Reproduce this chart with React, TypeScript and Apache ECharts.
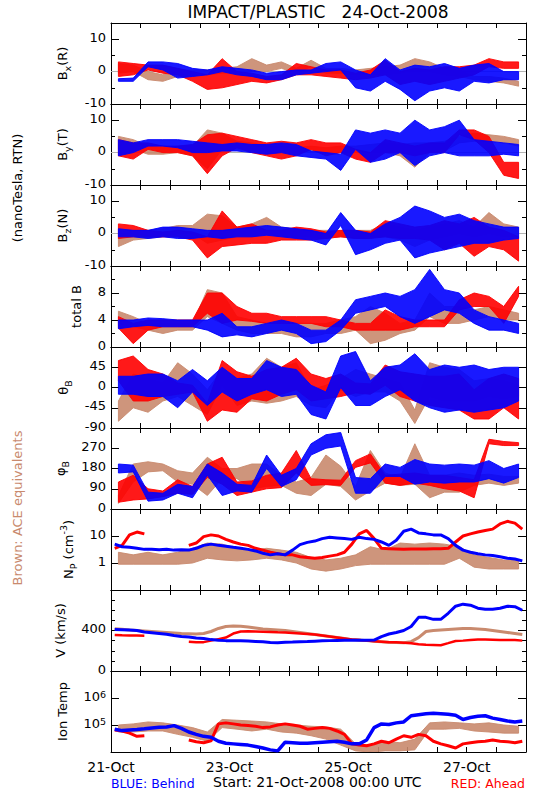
import React, { useEffect, useRef } from 'react';
import * as echarts from 'echarts';

const BLUE = '#0000ff';
const RED = '#ff0000';
const BROWN = '#c98a6e';
const FONT = 'DejaVu Sans';

// sample times: hours since 21-Oct-2008 00:00 UTC (every 3 h)
const TIMES: number[] = Array.from({ length: 56 }, (_, i) => 1.5 + 3 * i);

const X_LABEL_HOURS = [0, 48, 96, 144];
const X_LABELS = ['21-Oct', '23-Oct', '25-Oct', '27-Oct'];

// ---- Bx (R) : alternating upper / lower envelope readings
const BX_BEHIND = [-2.2,-3.0,-2.0,-3.0,3.0,1.5,3.0,0.5, 2.5,-2.0,1.0,-1.5,0.5,-1.0,1.5,0, 1.0,-1.0,0.5,-1.5,-0.5,-2.5,0,-2.5, 0.5,-1.0,0.5,-0.5,2.5,0,3.0,0.5, 0.5,-5.0,-1.0,-6.0,4.0,-3.0,0.5,-5.5, 2.0,-9.0,1.5,-6.0,2.5,-5.0,1.0,-6.0, 2.0,-3.0,2.5,-3.5,0,-2.5,0,-2.5];
const BX_AHEAD = [3.0,-1.5,2.5,-1.0,2.0,0.5,2.0,-0.5, 1.0,-1.0,0,-3.0,-1.0,-5.5,4.0,-5.0, 0,-4.0,-0.5,-3.0,-1.5,-3.5,-1.0,-2.5, 2.5,-1.0,1.5,-1.0,0.5,-1.5,0.5,-2.0, -0.5,-2.5,0.5,-2.0,3.5,-1.0,0,-4.0, 1.0,-3.0,0.5,-4.0,1.5,-3.0,1.5,-2.0, 2.0,-1.0,4.0,1.5,3.0,1.0,3.0,1.0];
const BX_ACE = [2.5,-0.5,2.0,0,0,-2.5,-1.0,-3.0, 0.5,-1.5,0.5,-1.0,0.5,-1.0,1.0,-0.5, 1.5,-0.5,4.0,0,2.0,0,3.0,1.0, 1.0,-0.5,3.5,1.5,1.0,-0.5,1.0,-0.5, 0.5,-1.0,1.0,-1.0,1.5,-1.0,2.0,-0.5, 4.0,0.5,3.0,0,1.0,-1.0,0.5,-1.5, -1.5,-2.5,-1.5,-3.0,-2.0,-3.5,-3.0,-4.5];

// ---- By (T)
const BY_BEHIND = [4.0,-1.0,3.0,0,4.0,2.0,4.0,2.0, 4.0,1.5,3.5,0,3.0,0,2.5,0.5, 3.0,0.5,2.5,0,2.5,-0.5,3.0,0, 2.5,-1.0,0.5,-1.5,0,-2.0,-0.5,-5.5, 7.0,1.0,6.0,-3.0,7.0,-2.0,6.0,0, 10.0,-4.0,7.0,-1.0,8.0,0,10.0,-1.0, 4.0,-1.0,3.5,-1.0,3.0,-0.5,2.5,-1.0];
const BY_AHEAD = [4.0,-1.0,3.0,-2.0,3.0,1.0,2.0,0, 2.0,0,2.5,-1.0,5.5,-6.5,6.0,-1.0, 5.0,1.5,4.0,0,3.0,-1.0,3.5,-2.0, 3.0,-1.0,4.0,1.0,3.0,-1.0,3.0,0, 1.0,-2.0,0,-3.0,4.0,0,3.0,0, 2.0,-1.0,3.0,0,3.0,0,7.0,5.5, 7.0,4.0,5.0,0,-3.0,-7.0,-3.0,-8.0];
const BY_ACE = [5.0,1.0,4.0,1.0,2.0,-0.5,1.5,-0.5, 2.0,0,2.0,-1.0,7.0,-5.0,6.0,1.0, 3.5,1.0,3.0,0.5,2.0,-0.5,2.0,0, 1.5,0,2.0,0.5,1.5,0,2.0,0, 2.0,0,2.5,0,3.0,0,2.5,-1.0, 3.0,-4.5,3.0,0,3.5,0.5,5.0,3.0, 6.0,3.5,5.5,3.5,5.0,3.0,4.0,2.0];

// ---- Bz (N)
const BZ_BEHIND = [1.5,-1.0,1.0,-1.0,1.0,-1.5,2.0,-1.0, 2.0,-1.5,1.5,-1.5,1.0,-1.0,1.0,-1.5, 1.5,-1.0,2.0,-1.0,2.5,-0.5,2.0,-1.0, 1.5,-1.5,1.0,-2.0,0,-3.5,6.5,2.5, 1.0,-6.5,0,-5.0,3.0,-3.0,5.0,-2.0, 8.5,-7.5,7.0,-6.0,5.0,-5.0,6.0,-4.0, 4.0,-3.0,3.0,-3.0,2.0,-2.0,2.0,-1.5];
const BZ_AHEAD = [3.0,-1.5,2.5,-1.0,1.0,-1.0,0.5,-1.0, 1.0,-1.0,0.5,-2.0,-1.0,-7.5,7.0,-4.0, 2.0,-3.5,3.0,-3.0,1.0,-3.0,1.0,-2.0, 2.0,-2.0,1.5,-2.0,0.5,-1.5,1.0,-1.0, 1.0,-1.5,0.5,-1.5,4.0,-1.0,3.0,-1.5, 2.0,-1.5,2.5,-2.0,4.0,-5.0,3.0,-3.0, 5.0,-7.0,2.0,-4.0,1.0,-5.0,-1.0,-8.5];
const BZ_ACE = [-1.0,-4.0,1.0,-2.0,1.0,-1.5,1.5,-1.0, 2.5,0,2.5,0,6.0,-3.0,5.5,-2.0, 2.0,-1.0,3.0,-1.0,5.0,0,2.0,-1.0, 1.5,-1.0,1.0,-1.0,1.0,-1.5,1.0,-1.0, 1.0,-1.5,1.0,-1.0,3.0,-1.0,2.0,-2.0, 1.0,-4.0,2.0,-2.0,3.0,-1.0,4.0,0, 2.0,-1.0,6.5,0,3.0,-1.0,2.0,-1.0];

// ---- total B
const BT_BEHIND = [4.0,2.7,4.0,3.0,4.3,3.2,4.2,3.0, 4.0,3.0,4.0,3.0,4.0,2.5,5.0,1.5, 3.0,1.8,3.0,1.5,3.5,2.0,4.0,2.5, 3.5,2.0,2.5,0.5,2.5,0.8,4.0,2.5, 7.0,5.0,7.5,5.5,8.0,6.0,7.5,4.5, 8.5,3.5,11.5,4.5,8.5,5.5,8.0,5.0, 5.5,3.5,4.5,2.5,4.0,2.5,3.5,2.0];
const BT_AHEAD = [4.5,2.8,3.5,0.5,4.0,2.5,4.0,3.0, 4.0,3.0,4.0,3.0,8.0,5.0,8.0,3.5, 6.0,4.0,5.0,3.8,5.0,3.5,4.5,3.5, 4.5,3.5,4.5,3.5,4.5,3.0,4.0,3.0, 3.5,2.5,3.5,2.5,5.5,2.5,4.5,2.5, 4.0,3.0,4.0,3.0,4.0,3.0,7.0,5.5, 8.0,6.0,7.5,6.0,6.0,3.5,9.0,7.5];
const BT_ACE = [5.3,3.5,4.5,3.0,3.5,2.5,3.5,2.0, 3.5,2.5,3.5,2.5,8.5,4.5,8.0,3.5, 4.5,2.5,4.0,2.0,3.5,2.0,3.5,2.0, 3.5,1.5,3.5,1.5,3.5,2.0,4.0,2.0, 4.5,2.5,6.0,0.5,5.0,1.0,3.5,2.0, 4.0,2.5,8.0,4.5,6.0,3.5,6.0,3.5, 5.5,4.0,6.0,4.5,5.5,4.0,5.0,4.0];

// ---- theta_B (dense core of the scatter)
const TH_BEHIND = [25,-15,25,-15,30,-20,30,-20, 15,-45,40,-10,15,-40,45,-10, 20,-30,20,-15,60,-5,45,-20, 40,-15,5,-60,-10,-70,70,0, 80,-40,15,-40,45,-20,50,-5, 75,-30,40,-45,50,-55,45,-50, 50,-55,40,-50,45,-45,45,-30];
const TH_AHEAD = [60,15,70,-30,40,-30,30,-20, 10,-15,5,-10,-35,-75,60,-50, 35,-55,25,-25,40,-30,45,-15, 65,-5,30,-30,20,-25,30,-20, 10,-12,8,-15,50,5,35,-20, 30,-30,25,-40,25,-45,30,-50, -5,-70,20,-70,30,-45,20,-70];
const TH_ACE = [-30,-75,30,-45,20,-55,10,-30, 55,-20,30,-40,-5,-60,40,5, 20,-40,30,-30,65,-35,45,-30, 55,-20,-5,-40,5,-45,20,-5, 40,-20,30,-10,20,-10,10,-30, -50,-80,55,-20,45,-30,40,-30, 15,-30,20,-20,15,-25,5,-20];

// ---- phi_B (dense core of the scatter)
const PH_BEHIND = [200,160,195,165,75,35,70,40, 110,70,100,50,200,150,160,60, 110,80,105,75,240,180,150,100, 180,130,290,240,330,270,340,280, 140,70,135,70,200,145,185,145, 220,110,200,120,195,115,200,120, 195,120,215,135,180,115,200,140];
const PH_AHEAD = [120,30,150,40,90,45,80,55, 130,70,100,65,200,140,230,110, 120,60,125,75,150,90,160,95, 260,160,135,105,130,108,128,105, 215,185,245,205,150,115,155,105, 160,115,150,105,150,90,140,80, 130,50,310,290,300,282,295,282];
const PH_ACE = [60,25,200,120,210,165,200,170, 170,120,160,110,230,60,180,135, 180,135,200,90,200,100,150,105, 120,70,140,60,240,110,190,100, 100,40,260,80,160,115,140,105, 290,110,150,50,150,75,160,75, 150,105,155,115,145,105,145,115];

// ---- Np (cm^-3)
const NP_BEHIND = [5.0,4.0,3.8,3.5,3.2,3.2,3.1,3.2, 3.0,3.1,3.0,3.5,4.5,5.0,4.5,4.2, 3.8,3.5,3.2,2.8,2.3,2.0,2.2,2.0, 3.0,4.8,5.8,6.5,8.0,9.0,8.5,8.0, 7.5,9.0,8.0,7.5,6.0,4.5,7.0,15, 18,13,12,11,11,8.0,4.5,3.0, 2.5,2.2,2.0,1.9,1.7,1.5,1.4,1.2];
const NP_AHEAD = [3.5,4.5,11,14,12,null,null,null, null,null,4.5,5.5,9.5,11,10,7.5, 6.0,5.0,4.5,3.5,3.0,2.5,2.2,2.0, 2.0,1.7,1.6,1.5,1.6,1.8,2.0,2.5, 5.0,12,16,8.0,3.5,3.4,3.3,3.2, 3.3,3.3,3.3,3.4,3.4,3.5,6.0,10, 12,14,16,18,28,35,30,18];
const NP_ACE = [2.5,0.9,2.0,0.9,2.5,0.9,2.0,0.9, 2.5,0.9,3.5,1.0,5.5,1.5,5.0,1.3, 3.5,1.2,3.0,1.3,3.5,1.5,3.0,1.3, 2.5,1.0,1.6,0.6,1.3,0.5,1.5,0.6, 2.0,0.8,4.0,0.9,3.0,0.9,5.5,0.9, 5.0,0.9,5.5,0.9,5.0,0.9,4.0,1.5, 2.0,0.7,1.6,0.6,1.3,0.6,1.2,0.6];

// ---- V (km/s)
const V_BEHIND = [410,408,405,400,385,378,370,362, 350,340,335,325,320,310,303,300, 300,298,296,292,288,282,280,283, 286,290,292,295,298,300,302,303, 303,303,304,305,340,365,380,400, 440,530,530,510,510,570,640,660, 650,620,610,610,620,640,635,600];
const V_AHEAD = [355,352,350,350,348,null,null,null, null,null,290,285,285,300,315,330, 370,390,392,390,388,385,382,380, 375,370,365,360,350,340,330,320, 310,305,300,295,290,285,283,280, 275,265,260,258,255,275,296,300, 305,310,310,308,305,305,305,300];
const V_ACE = [418,412,405,400,395,390,385,380, 375,370,368,365,370,390,420,440, 445,442,435,425,415,410,405,400, 390,380,370,360,350,340,330,320, 310,305,300,295,290,285,282,280, 290,330,390,400,405,410,415,420, 420,415,410,400,390,380,370,360];

// ---- Ion Temp (K)
const T_BEHIND = [7e4,6.2e4,6.5e4,6.8e4,7.2e4,7.8e4,8.2e4,8.5e4, 9.5e4,7.5e4,5.5e4,4.5e4,3.8e4,3.5e4,2.5e4,2.1e4, 2e4,1.9e4,1.8e4,1.6e4,1.4e4,1.2e4,1.1e4,2.3e4, 2.2e4,2.1e4,2.1e4,2.2e4,2.3e4,2.4e4,2.5e4,2.3e4, 2e4,2e4,2.8e4,8e4,1.1e5,1.05e5,1.2e5,1.3e5, 2.2e5,2.4e5,2.6e5,2.7e5,2.6e5,2.5e5,2.3e5,1.6e5, 1.9e5,2.1e5,2.2e5,1.8e5,1.6e5,1.4e5,1.3e5,1.4e5];
const T_AHEAD = [6.5e4,6e4,5e4,3.8e4,4e4,null,null,null, null,null,2.8e4,2.4e4,2.2e4,2.6e4,1.1e5,1.2e5, 1.1e5,1e5,9.5e4,9e4,8e4,8.5e4,1e5,1.1e5, 1e5,9e4,7e4,7.5e4,8e4,7.5e4,6e4,4.5e4, 2e4,1.8e4,1.7e4,2e4,2.5e4,2.2e4,3e4,4e4, 3.5e4,4.5e4,4e4,2.5e4,2e4,1.7e4,1.4e4,2e4, 2.2e4,2.4e4,2.5e4,2.8e4,2.5e4,2.4e4,2.2e4,2.5e4];
const T_ACE = [1e5,5.5e4,1.1e5,5.5e4,1.3e5,6e4,1.2e5,6e4, 1e5,4.5e4,8e4,3.5e4,5.5e4,2.5e4,1.6e5,8e4, 1.5e5,7e4,1.4e5,6e4,1.3e5,7e4,1.1e5,5.5e4, 1e5,5e4,9e4,4e4,8.5e4,3e4,7e4,1.8e4, 2e4,1.1e4,1.8e4,1e4,2.5e4,1.1e4,2.2e4,1.1e4, 3e4,1.2e4,1.2e5,7e4,1.3e5,7e4,1.2e5,7.5e4, 1.1e5,6e4,1.2e5,5.5e4,1e5,5e4,9e4,5e4];

type Arr = (number | null)[];
// kind: 'e' = alternating upper/lower envelope (drawn as a band), 'l' = plain line
interface Panel {
  name: string;
  type: 'value' | 'log';
  min: number;
  max: number;
  interval?: number;
  minor?: number;
  labels: number[];
  gap: number;
  zero?: boolean;
  ace: Arr;
  ahead: Arr;
  behind: Arr;
  kind: [string, string, string];
  w: [number, number, number];
  sup?: boolean;
}

const PANELS: Panel[] = [
  { name: 'B{sub|x}(R)', type: 'value', min: -10, max: 15, interval: 10, minor: 2, labels: [-10, 0, 10], gap: 39, zero: true, ace: BX_ACE, ahead: BX_AHEAD, behind: BX_BEHIND, kind: ['e', 'e', 'e'], w: [1, 1, 1] },
  { name: 'B{sub|y}(T)', type: 'value', min: -10, max: 15, interval: 10, minor: 2, labels: [-10, 0, 10], gap: 39, zero: true, ace: BY_ACE, ahead: BY_AHEAD, behind: BY_BEHIND, kind: ['e', 'e', 'e'], w: [1, 1, 1] },
  { name: 'B{sub|z}(N)', type: 'value', min: -10, max: 15, interval: 10, minor: 2, labels: [-10, 0, 10], gap: 39, zero: true, ace: BZ_ACE, ahead: BZ_AHEAD, behind: BZ_BEHIND, kind: ['e', 'e', 'e'], w: [1, 1, 1] },
  { name: 'total B', type: 'value', min: 0, max: 12, interval: 4, minor: 2, labels: [0, 4, 8], gap: 19, ace: BT_ACE, ahead: BT_AHEAD, behind: BT_BEHIND, kind: ['e', 'e', 'e'], w: [1, 1, 1] },
  { name: 'θ{sub|B}', type: 'value', min: -90, max: 90, interval: 45, labels: [-90, -45, 0, 45], gap: 36, ace: TH_ACE, ahead: TH_AHEAD, behind: TH_BEHIND, kind: ['e', 'e', 'e'], w: [1, 1, 1] },
  { name: 'φ{sub|B}', type: 'value', min: 0, max: 360, interval: 90, labels: [0, 90, 180, 270], gap: 36, ace: PH_ACE, ahead: PH_AHEAD, behind: PH_BEHIND, kind: ['e', 'e', 'e'], w: [1, 1, 1] },
  { name: 'N{sub|P} (cm{sup|-3})', type: 'log', min: 0.1, max: 100, labels: [1, 10], gap: 25, ace: NP_ACE, ahead: NP_AHEAD, behind: NP_BEHIND, kind: ['e', 'l', 'l'], w: [1, 3, 3] },
  { name: 'V (km/s)', type: 'value', min: 0, max: 800, interval: 400, minor: 4, labels: [0, 400], gap: 31, ace: V_ACE, ahead: V_AHEAD, behind: V_BEHIND, kind: ['l', 'l', 'l'], w: [3, 2.5, 3] },
  { name: 'Ion Temp', type: 'log', min: 1e4, max: 1e7, labels: [1e5, 1e6], gap: 31, sup: true, ace: T_ACE, ahead: T_AHEAD, behind: T_BEHIND, kind: ['e', 'l', 'l'], w: [1, 3, 3.5] },
];

const TOP0 = 23;
const PH = 81;

const toPairs = (arr: Arr) => arr.map((v, i) => [TIMES[i], v === null ? '-' : v]);

const richStyles = {
  sub: { fontFamily: FONT, fontSize: 9.5, lineHeight: 9, verticalAlign: 'bottom' },
  sup: { fontFamily: FONT, fontSize: 9.5, lineHeight: 9, verticalAlign: 'top' },
};

function buildOption() {
  const grid: any[] = [];
  const xAxis: any[] = [];
  const yAxis: any[] = [];
  const series: any[] = [];
  const tickLine = { color: '#000', width: 1 };

  PANELS.forEach((p, i) => {
    const last = i === PANELS.length - 1;
    grid.push({ left: 111, width: 415, top: TOP0 + i * PH, height: PH });
    const xCommon = {
      gridIndex: i,
      type: 'value',
      min: 0,
      max: 168,
      interval: 12,
      axisLine: { show: true, onZero: false, lineStyle: tickLine },
      axisTick: { show: true, inside: true, length: 5, lineStyle: tickLine },
      splitLine: { show: false },
    };
    xAxis.push({
      ...xCommon,
      position: 'bottom',
      axisLabel: {
        show: last,
        customValues: X_LABEL_HOURS,
        margin: 8,
        color: '#000',
        fontFamily: FONT,
        fontSize: 14,
        formatter: (v: number) => {
          const k = X_LABEL_HOURS.indexOf(Math.round(v));
          return k >= 0 ? X_LABELS[k] : '';
        },
      },
    });
    xAxis.push({ ...xCommon, position: 'top', axisLabel: { show: false } });

    const yCommon: any = {
      gridIndex: i,
      type: p.type,
      min: p.min,
      max: p.max,
      axisLine: { show: true, onZero: false, lineStyle: tickLine },
      axisTick: { show: true, inside: true, length: 8, lineStyle: tickLine },
      splitLine: { show: false },
      minorSplitLine: { show: false },
      minorTick: p.minor ? { show: true, splitNumber: p.minor, length: 4, lineStyle: tickLine } : { show: false },
    };
    if (p.type === 'log') yCommon.logBase = 10;
    else yCommon.interval = p.interval;

    const fmt = (v: number) => {
      if (p.type === 'log') {
        const e = Math.round(Math.log10(v));
        if (p.sup) return `10{sup|${e}}`;
        return String(Math.pow(10, e));
      }
      return String(Math.round(v));
    };

    yAxis.push({
      ...yCommon,
      position: 'left',
      name: p.name,
      nameLocation: 'middle',
      nameGap: p.gap,
      nameRotate: 90,
      nameTextStyle: { color: '#000', fontFamily: FONT, fontSize: 13, lineHeight: 20, rich: richStyles },
      axisLabel: {
        show: true,
        customValues: p.labels,
        hideOverlap: false,
        margin: 5,
        color: '#000',
        fontFamily: FONT,
        fontSize: 13,
        lineHeight: 14,
        padding: [0, 0, 4, 0],
        showMinLabel: true,
        showMaxLabel: true,
        formatter: fmt,
        rich: richStyles,
      },
    });
    yAxis.push({ ...yCommon, position: 'right', axisLabel: { show: false } });

    const mkLine = (name: string, data: Arr, color: string, w: number, z: number) => ({
      name,
      type: 'line',
      xAxisIndex: 2 * i,
      yAxisIndex: 2 * i,
      data: toPairs(data),
      showSymbol: false,
      symbol: 'none',
      connectNulls: false,
      silent: true,
      z,
      lineStyle: { color, width: w },
      itemStyle: { color },
    });

    // band between successive upper (even index) and lower (odd index) readings
    const mkRibbon = (name: string, data: Arr, color: string, z: number) => ({
      name,
      type: 'custom',
      xAxisIndex: 2 * i,
      yAxisIndex: 2 * i,
      z,
      silent: true,
      clip: true,
      data: [[TIMES[0], data[0]]],
      renderItem: (_params: any, api: any) => {
        const upper: number[][] = [];
        const lower: number[][] = [];
        for (let k = 0; 2 * k + 1 < data.length; k++) {
          const hi = data[2 * k];
          const lo = data[2 * k + 1];
          if (hi === null || lo === null) continue;
          const t = TIMES[2 * k] + 1.5;
          upper.push(api.coord([t, hi]));
          lower.push(api.coord([t, lo]));
        }
        const points = upper.concat(lower.reverse());
        return {
          type: 'polygon',
          shape: { points },
          style: { fill: color, stroke: color, lineWidth: 1, opacity: 0.9 },
        };
      },
    });

    if (p.zero) {
      series.push({
        name: 'zero',
        type: 'line',
        xAxisIndex: 2 * i,
        yAxisIndex: 2 * i,
        data: [],
        silent: true,
        z: 1,
        markLine: {
          z: 1,
          silent: true,
          symbol: 'none',
          label: { show: false },
          lineStyle: { color: '#b4b4b4', type: 'solid', width: 1 },
          data: [{ yAxis: 0 }],
        },
      });
    }

    const defs: [string, Arr, string][] = [
      ['ACE', p.ace, BROWN],
      ['Ahead', p.ahead, RED],
      ['Behind', p.behind, BLUE],
    ];
    defs.forEach(([nm, arr, col], j) => {
      const z = 2 + j;
      if (p.kind[j] === 'e') series.push(mkRibbon(nm, arr, col, z));
      else series.push(mkLine(nm, arr, col, p.w[j], z));
    });
  });

  const txt = (text: string, x: number, y: number, color: string, align: string, size = 12, rotation = 0) => ({
    type: 'text',
    x,
    y,
    rotation,
    silent: true,
    style: {
      text,
      fill: color,
      fontFamily: FONT,
      fontSize: size,
      align,
      textAlign: align,
      verticalAlign: 'middle',
      textVerticalAlign: 'middle',
    },
  });

  const graphic = [
    txt('IMPACT/PLASTIC   24-Oct-2008', 318, 12, '#000', 'center', 17),
    txt('(nanoTesla, RTN)', 17, 188, '#000', 'center', 13, Math.PI / 2),
    txt('Brown: ACE equivalents', 17, 508, BROWN, 'center', 13, Math.PI / 2),
    txt('BLUE: Behind', 111, 783, BLUE, 'left', 12.5),
    txt('Start: 21-Oct-2008 00:00 UTC', 213, 782, '#000', 'left', 14),
    txt('RED: Ahead', 525, 783, RED, 'right', 12.5),
  ];

  return {
    animation: false,
    backgroundColor: '#ffffff',
    grid,
    xAxis,
    yAxis,
    series,
    graphic,
  };
}

export default function App() {
  const ref = useRef<HTMLDivElement>(null);
  useEffect(() => {
    if (!ref.current) return;
    const chart = echarts.init(ref.current, undefined, { renderer: 'svg' });
    chart.setOption(buildOption() as any);
    return () => chart.dispose();
  }, []);
  return (
    <div
      ref={ref}
      style={{ position: 'absolute', left: 0, top: 0, width: 550, height: 800, background: '#fff' }}
    />
  );
}
